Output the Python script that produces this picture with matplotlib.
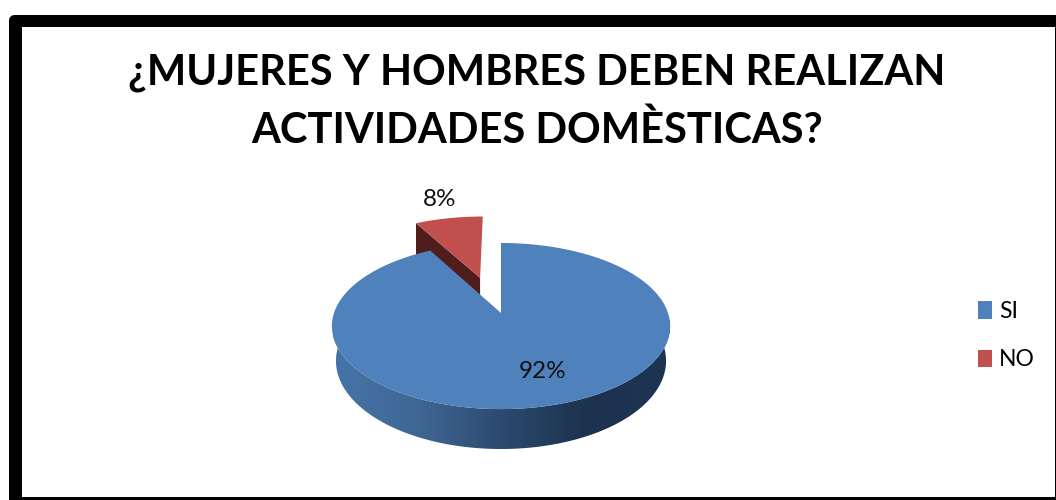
import numpy as np
import matplotlib
matplotlib.use("Agg")
import matplotlib.pyplot as plt
from matplotlib.patches import Polygon, FancyBboxPatch, Rectangle, Patch
from matplotlib.colors import LinearSegmentedColormap

categories = ["SI", "NO"]
shares = [92, 8]
title_lines = ["¿MUJERES Y HOMBRES DEBEN REALIZAN", "ACTIVIDADES DOMÈSTICAS?"]

BLUE, RED = "#4f81bd", "#c0504d"
DARK_RED = "#4f1d1b"
FONT = "Lato"
K = 0.157
EXPLODE = 0.48


def project(u, v, xc=501.0, yc=313.0, a=167.0, b=81.0):
    w = 1 + K * v
    return xc + a * u / w, yc - b * v / w


def arc(start, end, n=160):
    t = np.radians(np.linspace(start, end, n))
    return np.sin(t), np.cos(t)


fig = plt.figure(figsize=(10.56, 5.0), dpi=100)
ax = fig.add_axes([0, 0, 1, 1])
ax.set_xlim(0, 1056)
ax.set_ylim(500, 0)
ax.axis("off")

# frame
ax.add_patch(FancyBboxPatch((13, 19), 1060, 500, boxstyle="round,pad=4,rounding_size=6",
                            fc="black", ec="none", zorder=0))
ax.add_patch(Rectangle((22, 27), 1032.5, 469.5, fc="white", ec="none", zorder=1))

angle_blue = 360 * shares[0] / sum(shares)

# red slice, pulled out of the pie
mid = np.radians((angle_blue + 360) / 2)
du, dv = EXPLODE * np.sin(mid) - 0.015, EXPLODE * np.cos(mid)
ru, rv = arc(angle_blue, 360, 40)
tip_x, tip_y = project(du, dv)
left_x, left_y = project(du + ru[0], dv + rv[0])
depth_red = 33
ax.add_patch(Polygon([(left_x, left_y), (tip_x, tip_y), (tip_x, tip_y + depth_red),
                      (left_x, left_y + depth_red)], fc=DARK_RED, ec="none", zorder=2))
rx, ry = project(du + ru, dv + rv)
ax.add_patch(Polygon(np.r_[[[tip_x, tip_y]], np.c_[rx, ry]], fc=RED, ec="none", zorder=3))

# blue side with horizontal gradient
fu, fv = arc(90, 270)
top_x, top_y = project(fu, fv)
low_x, low_y = project(fu, fv, xc=501, yc=347, a=163, b=86)
side = Polygon(np.r_[np.c_[top_x, top_y], np.c_[low_x, low_y][::-1]], fc="none", ec="none",
               transform=ax.transData)
ax.add_patch(side)
cmap = LinearSegmentedColormap.from_list("side", ["#4674a8", "#3f6794", "#2c4a6e", "#1c324f", "#1d3453"])
im = ax.imshow(np.linspace(0, 1, 256).reshape(1, -1), cmap=cmap, aspect="auto",
               extent=(333, 671, 450, 320), zorder=4, interpolation="bilinear")
im.set_clip_path(side)
ax.set_xlim(0, 1056)
ax.set_ylim(500, 0)

# blue top
bu, bv = arc(0, angle_blue, 400)
bx, by = project(bu, bv)
tx, ty = project(0.0, 0.0)
ax.add_patch(Polygon(np.r_[[[tx, ty]], np.c_[bx, by]], fc=BLUE, ec="none", zorder=5))

# labels
labels = [f"{s}%" for s in shares]
ax.text(543, 371, labels[0], ha="center", va="center", fontsize=17.5, family=FONT, color="#111111", zorder=6)
ax.text(440, 199, labels[1], ha="center", va="center", fontsize=17.5, family=FONT, color="#111111", zorder=6)

# title
ax.text(537, 73, title_lines[0], ha="center", va="center", fontsize=30, fontweight="bold",
        family=FONT, color="black", zorder=6)
ax.text(537, 130, title_lines[1], ha="center", va="center", fontsize=30, fontweight="bold",
        family=FONT, color="black", zorder=6)

# legend
handles = [Patch(fc=BLUE, ec="none"), Patch(fc=RED, ec="none")]
ax.legend(handles, categories, loc="center left", bbox_to_anchor=(969 / 1056, 1 - 335.5 / 500),
          frameon=False, prop={"family": FONT, "size": 16.5}, handlelength=0.62, handleheight=0.8,
          handletextpad=0.3, labelspacing=1.2, borderpad=0, borderaxespad=0.4)

fig.savefig("out.png", dpi=100)
